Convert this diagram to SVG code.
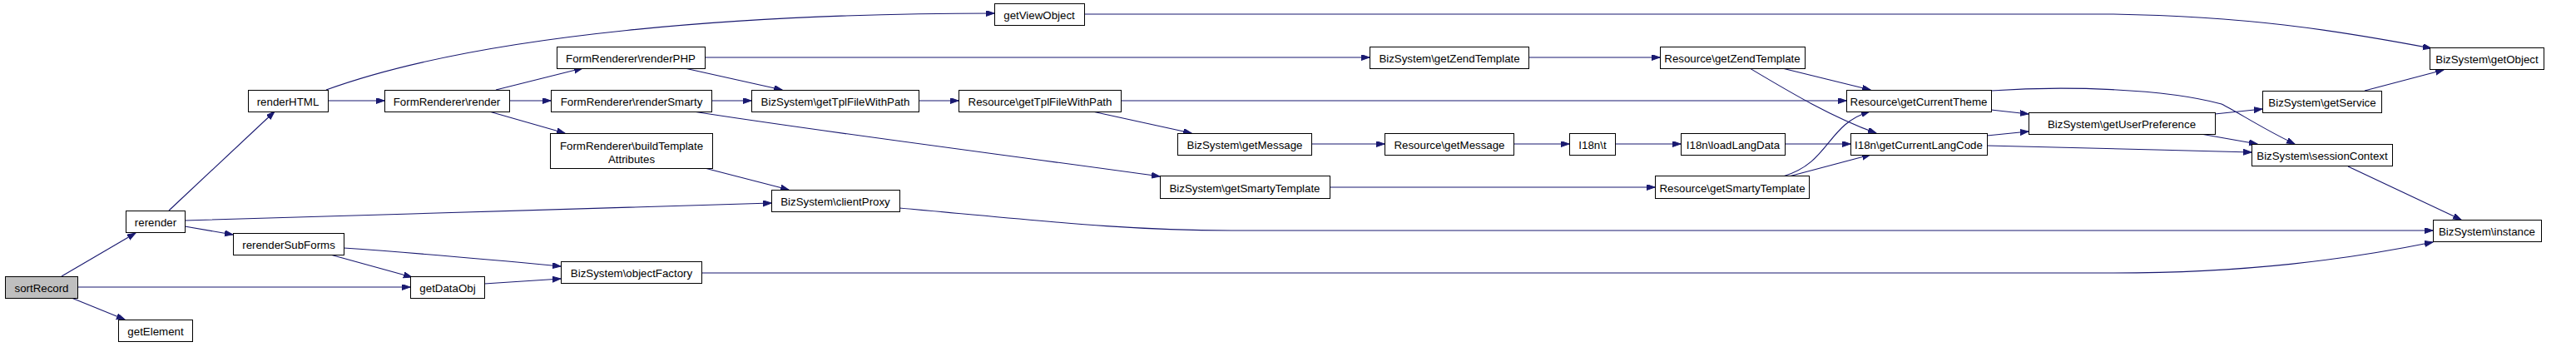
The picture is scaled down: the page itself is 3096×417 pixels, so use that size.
<svg xmlns="http://www.w3.org/2000/svg" width="3096" height="417" viewBox="0 0 3096 417">
<style>
.n rect{fill:#fff;stroke:#000;stroke-width:1}
.n.root rect{fill:#bfbfbf}
.n text{font-family:"Liberation Sans",Arial,sans-serif;font-size:13.3px;text-anchor:middle;fill:#000}
.e path{fill:none;stroke:#191970;stroke-width:1.1;marker-end:url(#ah)}
</style>
<defs>
<marker id="ah" markerUnits="userSpaceOnUse" markerWidth="11" markerHeight="8" refX="10" refY="3.5" orient="auto">
<path d="M0,0 L10,3.5 L0,7 z" fill="#191970" stroke="#191970" stroke-width="1"/>
</marker>
</defs>
<rect width="3096" height="417" fill="#fff"/>
<g id="edges" class="e">
<path d="M74,332 L163,280"/>
<path d="M93,345 L493,345"/>
<path d="M86,358 L150,384"/>
<path d="M203,253 L330,134"/>
<path d="M222,265 C450,258 750,250 927,244"/>
<path d="M222,272 L280,282"/>
<path d="M397,306 L495,333"/>
<path d="M413,298 C500,304 600,313 674,320"/>
<path d="M582,341 L674,335"/>
<path d="M843,328 L2540,328 C2700,328 2820,312 2924,291"/>
<path d="M392,108 C580,40 900,16 1195,16"/>
<path d="M394,121 L462,121"/>
<path d="M596,108 L700,82"/>
<path d="M612,121 L662,121"/>
<path d="M588,134 L679,160"/>
<path d="M847,69 L1646,69"/>
<path d="M823,82 L940,108"/>
<path d="M855,121 L903,121"/>
<path d="M833,134 C1000,160 1200,185 1394,212"/>
<path d="M847,202 L948,228"/>
<path d="M1081,250 C1250,265 1350,277 1480,277 L2924,277"/>
<path d="M1104,121 L1152,121"/>
<path d="M1347,121 L2219,121"/>
<path d="M1313,134 L1432,160"/>
<path d="M1576,173 L1664,173"/>
<path d="M1819,173 L1886,173"/>
<path d="M1941,173 L2020,173"/>
<path d="M2145,173 L2224,173"/>
<path d="M1598,225 L1989,225"/>
<path d="M1837,69 L1995,69"/>
<path d="M2142,82 L2248,108"/>
<path d="M2103,82 C2150,110 2200,140 2255,160"/>
<path d="M2143,212 C2200,195 2195,150 2247,134"/>
<path d="M2150,212 L2248,186"/>
<path d="M2393,132 L2438,137"/>
<path d="M2393,109 C2480,103 2600,106 2670,125 C2690,135 2720,155 2758,173"/>
<path d="M2388,163 L2438,158"/>
<path d="M2388,175 C2500,178 2600,180 2706,183"/>
<path d="M2662,137 L2719,131"/>
<path d="M2645,161 L2713,173"/>
<path d="M2842,109 L2937,84"/>
<path d="M2822,200 L2958,264"/>
<path d="M1303,17 L2540,17 C2700,20 2800,35 2922,58"/>
</g>
<g id="n_sortRecord" class="n root"><rect x="6.5" y="332.5" width="87" height="26"/><text x="50" y="351">sortRecord</text></g>
<g id="n_rerender" class="n"><rect x="151.5" y="253.5" width="71" height="26"/><text x="187" y="272">rerender</text></g>
<g id="n_renderHTML" class="n"><rect x="298.5" y="108.5" width="96" height="26"/><text x="346" y="127">renderHTML</text></g>
<g id="n_rerenderSubForms" class="n"><rect x="280.5" y="280.5" width="133" height="26"/><text x="347" y="299">rerenderSubForms</text></g>
<g id="n_getDataObj" class="n"><rect x="493.5" y="332.5" width="89" height="26"/><text x="538" y="351">getDataObj</text></g>
<g id="n_getElement" class="n"><rect x="142.5" y="384.5" width="89" height="26"/><text x="187" y="403">getElement</text></g>
<g id="n_FormRendererRender" class="n"><rect x="462.5" y="108.5" width="150" height="26"/><text x="537" y="127">FormRenderer\render</text></g>
<g id="n_renderPHP" class="n"><rect x="669.5" y="56.5" width="178" height="26"/><text x="758" y="75">FormRenderer\renderPHP</text></g>
<g id="n_renderSmarty" class="n"><rect x="662.5" y="108.5" width="193" height="26"/><text x="759" y="127">FormRenderer\renderSmarty</text></g>
<g id="n_buildTemplateAttributes" class="n"><rect x="661.5" y="160.5" width="195" height="42"/><text x="759" y="180">FormRenderer\buildTemplate</text><text x="759" y="196">Attributes</text></g>
<g id="n_BizGetTplFileWithPath" class="n"><rect x="903.5" y="108.5" width="201" height="26"/><text x="1004" y="127">BizSystem\getTplFileWithPath</text></g>
<g id="n_clientProxy" class="n"><rect x="927.5" y="228.5" width="154" height="26"/><text x="1004" y="247">BizSystem\clientProxy</text></g>
<g id="n_objectFactory" class="n"><rect x="674.5" y="314.5" width="169" height="26"/><text x="759" y="333">BizSystem\objectFactory</text></g>
<g id="n_getViewObject" class="n"><rect x="1195.5" y="4.5" width="108" height="26"/><text x="1249" y="23">getViewObject</text></g>
<g id="n_ResGetTplFileWithPath" class="n"><rect x="1152.5" y="108.5" width="195" height="26"/><text x="1250" y="127">Resource\getTplFileWithPath</text></g>
<g id="n_BizGetMessage" class="n"><rect x="1415.5" y="160.5" width="161" height="26"/><text x="1496" y="179">BizSystem\getMessage</text></g>
<g id="n_BizGetSmartyTemplate" class="n"><rect x="1394.5" y="211.5" width="204" height="27"/><text x="1496" y="231">BizSystem\getSmartyTemplate</text></g>
<g id="n_BizGetZendTemplate" class="n"><rect x="1646.5" y="56.5" width="191" height="26"/><text x="1742" y="75">BizSystem\getZendTemplate</text></g>
<g id="n_ResGetZendTemplate" class="n"><rect x="1995.5" y="56.5" width="174" height="26"/><text x="2082" y="75">Resource\getZendTemplate</text></g>
<g id="n_ResGetMessage" class="n"><rect x="1664.5" y="160.5" width="155" height="26"/><text x="1742" y="179">Resource\getMessage</text></g>
<g id="n_I18nT" class="n"><rect x="1886.5" y="160.5" width="55" height="26"/><text x="1914" y="179">I18n\t</text></g>
<g id="n_ResGetSmartyTemplate" class="n"><rect x="1989.5" y="211.5" width="185" height="27"/><text x="2082" y="231">Resource\getSmartyTemplate</text></g>
<g id="n_loadLangData" class="n"><rect x="2020.5" y="160.5" width="125" height="26"/><text x="2083" y="179">I18n\loadLangData</text></g>
<g id="n_getCurrentTheme" class="n"><rect x="2219.5" y="108.5" width="174" height="26"/><text x="2306" y="127">Resource\getCurrentTheme</text></g>
<g id="n_getCurrentLangCode" class="n"><rect x="2224.5" y="160.5" width="164" height="26"/><text x="2306" y="179">I18n\getCurrentLangCode</text></g>
<g id="n_getUserPreference" class="n"><rect x="2438.5" y="135.5" width="224" height="26"/><text x="2550" y="154">BizSystem\getUserPreference</text></g>
<g id="n_getObject" class="n"><rect x="2920.5" y="57.5" width="137" height="26"/><text x="2989" y="76">BizSystem\getObject</text></g>
<g id="n_getService" class="n"><rect x="2719.5" y="109.5" width="143" height="26"/><text x="2791" y="128">BizSystem\getService</text></g>
<g id="n_sessionContext" class="n"><rect x="2706.5" y="173.5" width="169" height="26"/><text x="2791" y="192">BizSystem\sessionContext</text></g>
<g id="n_instance" class="n"><rect x="2924.5" y="264.5" width="130" height="26"/><text x="2989" y="283">BizSystem\instance</text></g>
</svg>
